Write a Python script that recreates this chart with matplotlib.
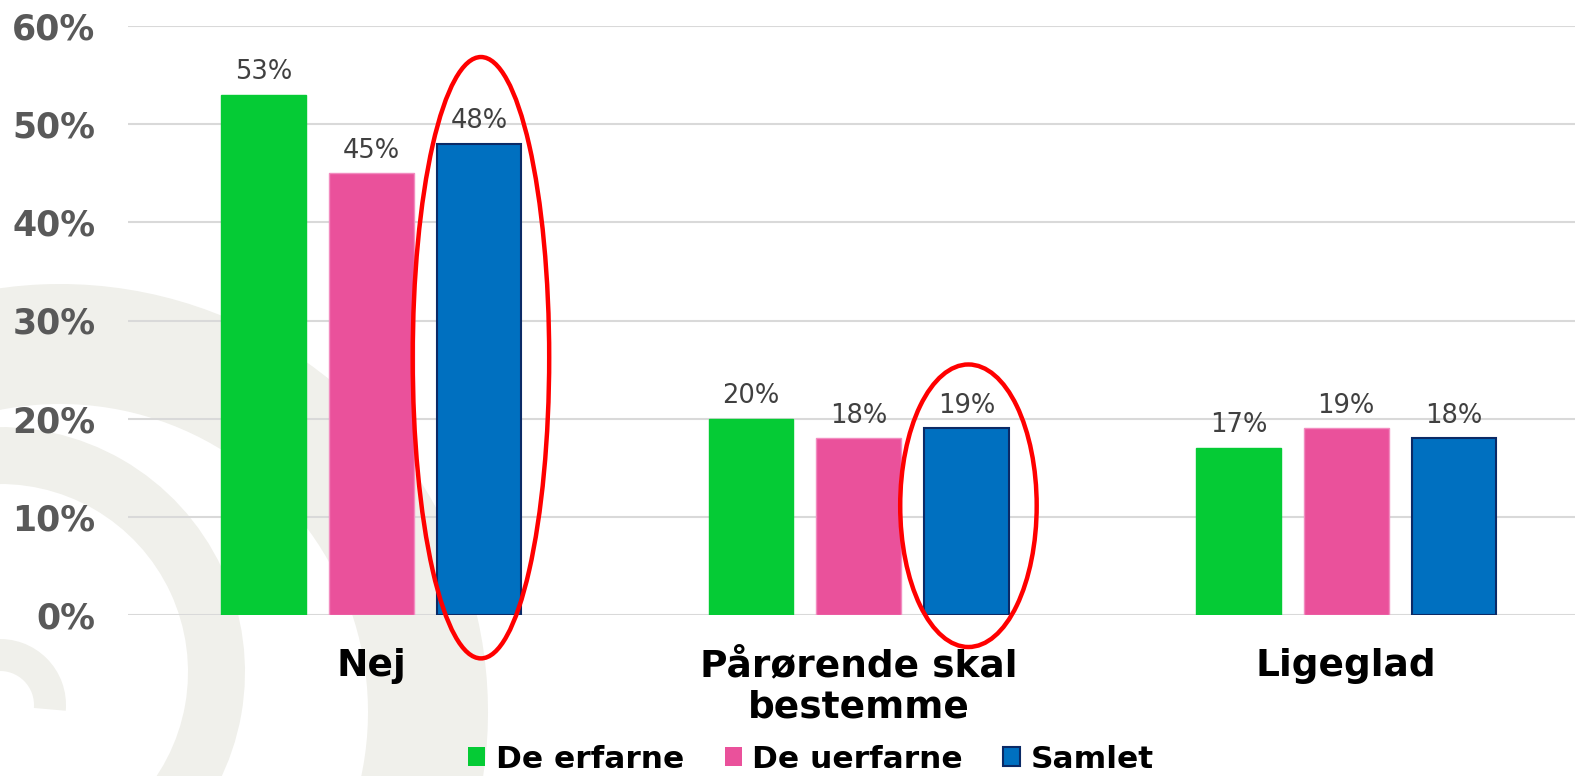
import matplotlib
matplotlib.use("Agg")
import matplotlib.pyplot as plt
from matplotlib.patches import Ellipse, Wedge, Patch
import numpy as np

# data
categories = ["Nej", "Pårørende skal\nbestemme", "Ligeglad"]
series_names = ["De erfarne", "De uerfarne", "Samlet"]
erfarne = [53, 20, 17]
uerfarne = [45, 18, 19]
samlet = [48, 19, 18]
y_ticks = [0, 10, 20, 30, 40, 50, 60]
highlighted = [0, 1]  # categories where "Samlet" is circled in red

colors = ["#05CB35", "#EA519B", "#0070C0"]
edges = ["#05CB35", "#F28CC0", "#0B2A66"]

fig = plt.figure(figsize=(15.75, 7.76), dpi=100)

# faint swirl in the background (pixel coordinates, y up)
bg = fig.add_axes([0, 0, 1, 1], zorder=0)
bg.set_xlim(0, 1575)
bg.set_ylim(0, 776)
bg.axis("off")
swirl = "#F0F0EB"
bg.add_patch(Wedge((60, 64), 428, -20, 130, width=120, color=swirl, lw=0))
bg.add_patch(Wedge((0, 104), 245, -45, 95, width=57, color=swirl, lw=0))
bg.add_patch(Wedge((0, 71), 66, -5, 95, width=32, color=swirl, lw=0))

ax = fig.add_axes([127.5 / 1575, 161 / 776, 1462.5 / 1575, 589 / 776], zorder=1)
ax.set_facecolor("none")

x = np.arange(len(categories))
step = 0.221
width = 0.174
all_series = [erfarne, uerfarne, samlet]
for i, (name, vals) in enumerate(zip(series_names, all_series)):
    pos = x + (i - 1) * step
    bars = ax.bar(pos, vals, width=width, color=colors[i], edgecolor=edges[i],
                  linewidth=1.5 if i == 2 else 1.0, label=name, zorder=3)
    for b, v in zip(bars, vals):
        ax.annotate(f"{v}%", (b.get_x() + b.get_width() / 2, v),
                    xytext=(0, 7), textcoords="offset points",
                    ha="center", va="bottom", fontsize=18.5, color="#404040")

# red ellipses around "Samlet"
for k in highlighted:
    bottom = -2.5 - 0.04 * samlet[k]
    top = samlet[k] * 1.08 + 5
    e = Ellipse((x[k] + step + 0.004, (bottom + top) / 2), 0.28, top - bottom,
                fill=False, edgecolor="#FF0000", linewidth=3.2, zorder=5, clip_on=False)
    ax.add_patch(e)

ax.set_xlim(-0.5, len(categories) - 0.5)
ax.set_ylim(0, 60)
ax.set_yticks(y_ticks)
ax.set_yticklabels([f"{t}%" for t in y_ticks], fontsize=25, fontweight="bold", color="#595959")
ax.set_xticks(x)
ax.set_xticklabels(categories, fontsize=27, fontweight="bold", color="black")
ax.tick_params(axis="y", length=0, pad=23)
ax.tick_params(axis="x", length=0, pad=24)
ax.grid(axis="y", color="#D9D9D9", linewidth=1.5, zorder=0)
ax.set_axisbelow(True)
for s in ax.spines.values():
    s.set_visible(False)

handles = [Patch(facecolor=colors[i], edgecolor=edges[i], linewidth=1.5 if i == 2 else 0)
           for i in range(3)]
fig.legend(handles, series_names, loc="center", bbox_to_anchor=(811 / 1575, 1 - 759 / 776),
           ncol=3, frameon=False, prop={"size": 22.5, "weight": "bold"},
           handlelength=0.55, handleheight=0.55, handletextpad=0.33,
           columnspacing=1.3, borderpad=0)

fig.savefig("out.png", dpi=100)
